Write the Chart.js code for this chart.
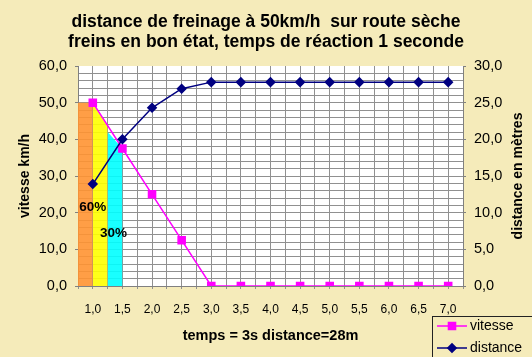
<!DOCTYPE html>
<html><head><meta charset="utf-8">
<script src="https://cdn.jsdelivr.net/npm/chart.js@4"></script>
<style>html,body{margin:0;padding:0;background:#F5EBBA;overflow:hidden}canvas{display:block}</style>
</head><body>
<canvas id="c" width="532" height="357"></canvas>
<script>
// ---- data ----
const titleLines = ['distance de freinage à 50km/h  sur route sèche', 'freins en bon état, temps de réaction 1 seconde'];
const xTitle = 'temps = 3s distance=28m';
const yLeftTitle = 'vitesse km/h';
const yRightTitle = 'distance en mètres';
const temps = [1.0, 1.5, 2.0, 2.5, 3.0, 3.5, 4.0, 4.5, 5.0, 5.5, 6.0, 6.5, 7.0];
const vitesse = [50, 37.5, 25, 12.5, 0, 0, 0, 0, 0, 0, 0, 0, 0];
const distance = [13.9, 20.0, 24.3, 26.9, 27.8, 27.8, 27.8, 27.8, 27.8, 27.8, 27.8, 27.8, 27.8];
const vitesseTicks = [0, 10, 20, 30, 40, 50, 60];
const distanceTicks = [0, 5, 10, 15, 20, 25, 30];
const zoneOrangeX = [0.75, 1.0], zoneOrangeY = [50, 50];
const zoneJauneX = [1.0, 1.25], zoneJauneY = [50, 43.4];
const zoneCyanX = [1.25, 1.5], zoneCyanY = [42, 37.5];
const pourcentLabels = ['60%', '30%'];
const pourcentX = [1.0, 1.35];
const pourcentY = [21.6, 14.5];

const FONT = "'Liberation Sans', Arial, sans-serif";
const BG = '#F5EBBA';
const GRID = '#909090';
const fmt = v => v.toFixed(1).replace('.', ',');
const pts = (xs, ys) => xs.map((x, i) => ({x, y: ys[i]}));

const bgPlugin = {
  id: 'bg',
  beforeDraw(chart) {
    const {ctx, chartArea: a} = chart;
    ctx.save();
    ctx.fillStyle = BG;
    ctx.fillRect(0, 0, chart.width, chart.height);
    ctx.fillStyle = '#ffffff';
    ctx.fillRect(a.left, a.top, a.right - a.left, a.bottom - a.top);
    ctx.restore();
  }
};

const annotPlugin = {
  id: 'annot',
  afterDatasetsDraw(chart) {
    const {ctx} = chart;
    const xs = chart.scales.x, ys = chart.scales.y;
    ctx.save();
    ctx.font = 'bold 13.5px ' + FONT;
    ctx.fillStyle = '#000';
    ctx.textAlign = 'center';
    ctx.textBaseline = 'middle';
    pourcentLabels.forEach((t, i) => ctx.fillText(t, xs.getPixelForValue(pourcentX[i]), ys.getPixelForValue(pourcentY[i])));
    ctx.restore();
  },
  afterDraw(chart) {
    const {ctx} = chart;
    const a = chart.chartArea;
    ctx.save();
    // right axis title (reads bottom to top)
    ctx.font = 'bold 14px ' + FONT;
    ctx.fillStyle = '#000';
    ctx.translate(518, (a.top + a.bottom) / 2);
    ctx.rotate(-Math.PI / 2);
    ctx.textAlign = 'center';
    ctx.textBaseline = 'middle';
    ctx.fillText(yRightTitle, 0, 0);
    ctx.restore();

    // legend
    ctx.save();
    ctx.strokeStyle = '#222';
    ctx.lineWidth = 1;
    ctx.strokeRect(432.5, 316.5, 200, 100);
    const items = [chart.data.datasets[0], chart.data.datasets[1]];
    items.forEach((ds, i) => {
      const y = 326 + i * 22;
      ctx.strokeStyle = ds.borderColor;
      ctx.lineWidth = 1.5;
      ctx.beginPath(); ctx.moveTo(437, y); ctx.lineTo(467, y); ctx.stroke();
      ctx.fillStyle = ds.pointBackgroundColor;
      ctx.strokeStyle = ds.borderColor;
      Chart.helpers.drawPoint(ctx, {pointStyle: ds.pointStyle, radius: ds.pointRadius, borderWidth: 1, rotation: 0}, 452, y);
      ctx.fillStyle = '#000';
      ctx.font = '14px ' + FONT;
      ctx.textAlign = 'left';
      ctx.textBaseline = 'middle';
      ctx.fillText(ds.label, 470, y);
    });
    ctx.restore();
  }
};

new Chart(document.getElementById('c'), {
  type: 'line',
  data: {
    datasets: [
      {label: 'vitesse', data: pts(temps, vitesse), yAxisID: 'y', borderColor: '#FF00FF', backgroundColor: '#FF00FF',
        pointBackgroundColor: '#FF00FF', pointBorderColor: '#FF00FF', pointStyle: 'rect', pointRadius: 5, borderWidth: 1.5, order: 1, fill: false},
      {label: 'distance', data: pts(temps, distance), yAxisID: 'y2', borderColor: '#000080', backgroundColor: '#000080',
        pointBackgroundColor: '#000080', pointBorderColor: '#000080', pointStyle: 'rectRot', pointRadius: 4.2, borderWidth: 1.5, order: 0, fill: false},
      {label: 'reaction', data: pts(zoneOrangeX, zoneOrangeY), yAxisID: 'y', borderWidth: 0, pointRadius: 0,
        backgroundColor: 'rgba(255,148,50,0.9)', fill: 'origin', order: 5},
      {label: 'jaune', data: pts(zoneJauneX, zoneJauneY), yAxisID: 'y', borderWidth: 0, pointRadius: 0,
        backgroundColor: 'rgba(255,255,0,0.9)', fill: 'origin', order: 5},
      {label: 'cyan', data: pts(zoneCyanX, zoneCyanY), yAxisID: 'y', borderWidth: 0, pointRadius: 0,
        backgroundColor: 'rgba(0,255,255,0.9)', fill: 'origin', order: 5}
    ]
  },
  options: {
    responsive: false,
    animation: false,
    events: [],
    layout: {padding: 0},
    plugins: {
      legend: {display: false},
      tooltip: {enabled: false},
      title: {
        display: true,
        text: titleLines,
        color: '#000',
        font: {family: FONT, size: 17.5, weight: 'bold', lineHeight: '20px'},
        padding: {top: 12, bottom: 14}
      }
    },
    scales: {
      x: {
        type: 'linear', position: 'bottom', min: 0.75, max: 7.25,
        afterFit: s => { s.height = 71; },
        ticks: {stepSize: 0.25, autoSkip: false, maxRotation: 0, color: '#000', padding: 13,
          font: {family: FONT, size: 12},
          callback: v => (temps.some(t => Math.abs(t - v) < 1e-6) ? fmt(v) : '')},
        grid: {color: GRID, lineWidth: 1, tickLength: 3, tickColor: GRID},
        border: {color: '#808080'},
        title: {display: true, text: xTitle, color: '#000', font: {family: FONT, size: 14.5, weight: 'bold'}, padding: {top: 0, bottom: 12}}
      },
      y: {
        type: 'linear', position: 'left', min: 0, max: 60,
        afterFit: s => { s.width = 78; },
        ticks: {stepSize: 2, autoSkip: false, color: '#000', padding: 8, font: {family: FONT, size: 14.5},
          callback: v => (vitesseTicks.includes(v) ? fmt(v) : '')},
        grid: {lineWidth: 1, tickLength: 3,
          color: c => (c.tick && c.tick.value === 60 ? 'rgba(0,0,0,0)' : GRID),
          tickColor: c => (c.tick && vitesseTicks.includes(c.tick.value) ? '#808080' : 'rgba(0,0,0,0)')},
        border: {color: '#808080'},
        title: {display: true, text: yLeftTitle, color: '#000', font: {family: FONT, size: 14, weight: 'bold'}, padding: {top: 17, bottom: 0}}
      },
      y2: {
        type: 'linear', position: 'right', min: 0, max: 30,
        afterFit: s => { s.width = 69; },
        ticks: {stepSize: 5, autoSkip: false, color: '#000', padding: 8, font: {family: FONT, size: 14.5},
          callback: v => (distanceTicks.includes(v) ? fmt(v) : '')},
        grid: {drawOnChartArea: false, tickLength: 3, tickColor: '#808080'},
        border: {color: '#808080'}
      }
    }
  },
  plugins: [bgPlugin, annotPlugin]
});
</script>
</body></html>
